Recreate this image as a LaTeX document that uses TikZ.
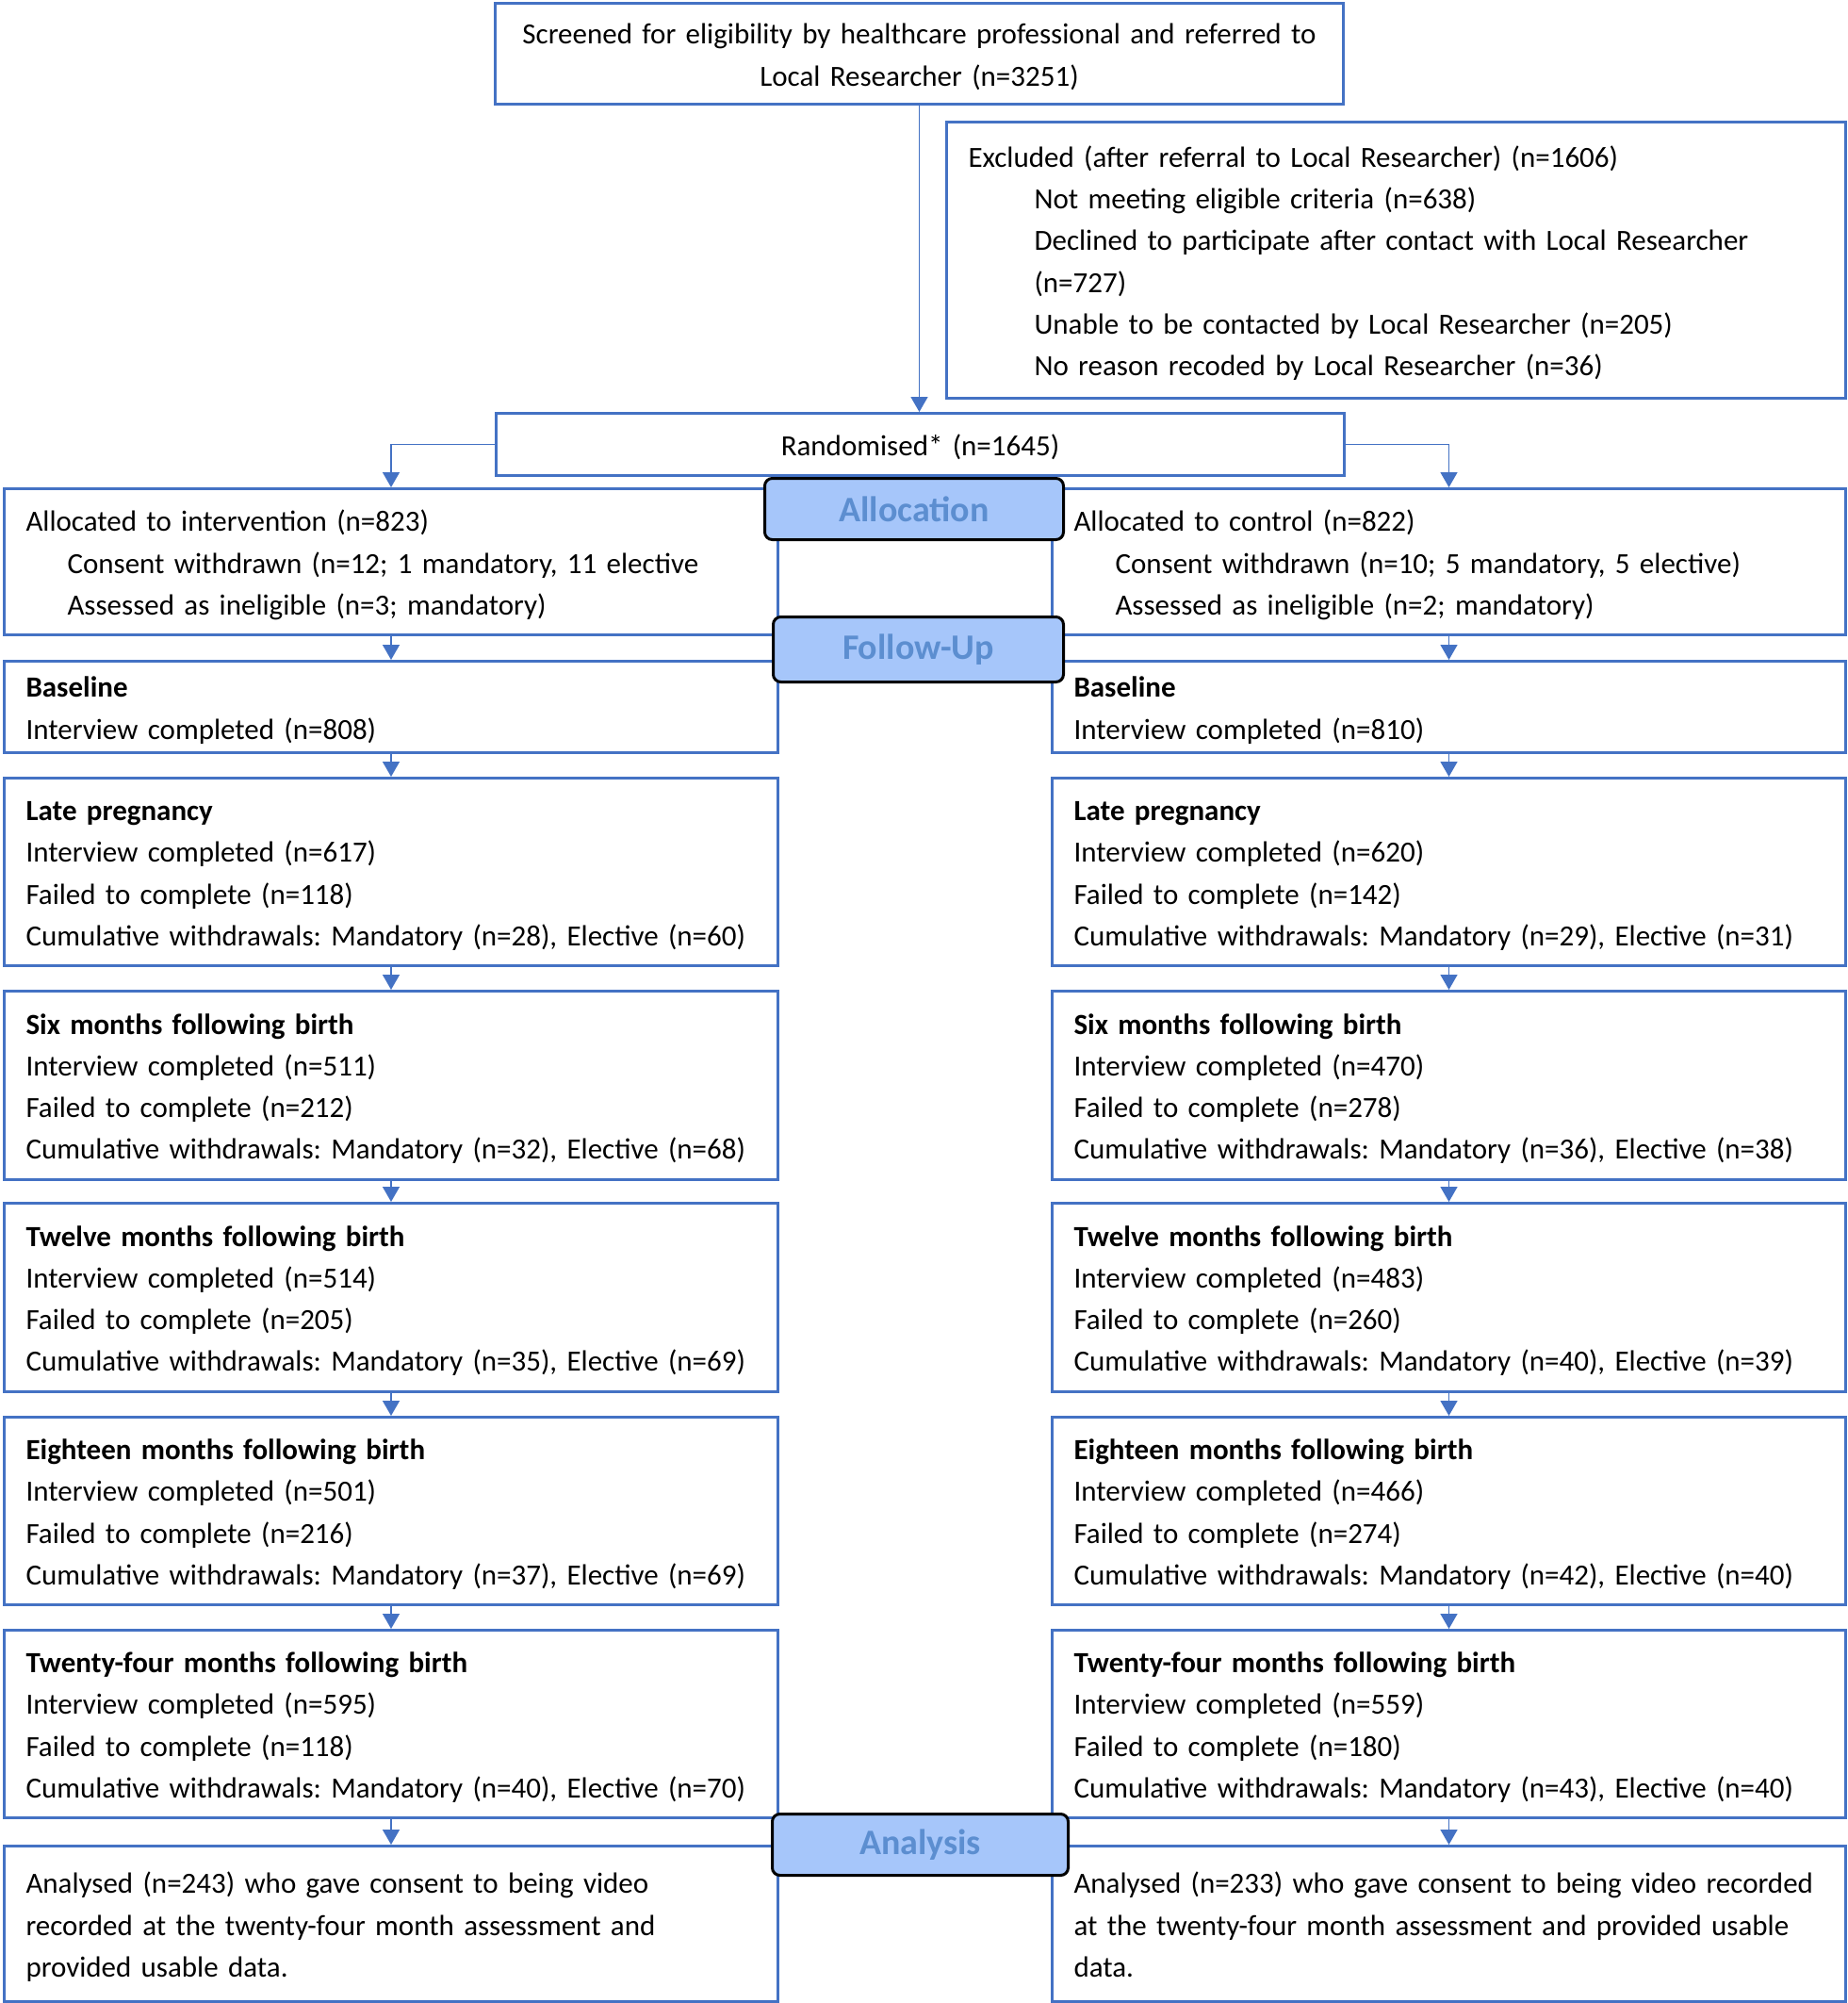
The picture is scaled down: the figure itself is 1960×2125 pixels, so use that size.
\documentclass[tikz,border=0pt]{standalone}
\usepackage{fontspec}
\setmainfont{Carlito}
\usetikzlibrary{arrows.meta}
\definecolor{boxblue}{RGB}{68,114,196}
\definecolor{tagfill}{RGB}{166,198,250}
\definecolor{tagtext}{RGB}{92,142,208}
\frenchspacing
\begin{document}
\begin{tikzpicture}[x=1pt, y=-1pt,
  box/.style={draw=boxblue, line width=3pt, anchor=north west, inner xsep=23pt, inner ysep=0pt,
    align=left, font=\fontsize{31}{44.2}\selectfont,
    execute at begin node=\rule{0pt}{33pt}, execute at end node=\rule[-9pt]{0pt}{0pt}},
  boxL/.style={box, text width=775pt},
  boxR/.style={box, text width=796pt},
  tag/.style={draw=black, line width=3pt, rounded corners=8pt, fill=tagfill, text=tagtext,
    anchor=north west, inner sep=0pt, font=\fontsize{38}{44}\selectfont\bfseries},
  arr/.style={draw=boxblue, line width=1.5pt, -{Triangle[width=18pt,length=16pt]}}]
\useasboundingbox (0,0) rectangle (1960,2125);

\node[box, align=center, text width=854pt, minimum height=107pt] (screen) at (524,2)
  {Screened for eligibility by healthcare professional and referred to\\Local Researcher (n=3251)};
\node[box, text width=908pt, minimum height=293pt] (excl) at (1003,128)
  {Excluded (after referral to Local Researcher) (n=1606)\\
   \hspace*{70pt}Not meeting eligible criteria (n=638)\\
   \hspace*{70pt}Declined to participate after contact with Local Researcher\\
   \hspace*{70pt}(n=727)\\
   \hspace*{70pt}Unable to be contacted by Local Researcher (n=205)\\
   \hspace*{70pt}No reason recoded by Local Researcher (n=36)};
\node[box, align=center, text width=854pt, minimum height=66pt] (rand) at (525,437) {Randomised* (n=1645)};

\node[boxL, minimum height=155pt] (allocL) at (3,517)
  {Allocated to intervention (n=823)\\
   \hspace*{44pt}Consent withdrawn (n=12; 1 mandatory, 11 elective\\
   \hspace*{44pt}Assessed as ineligible (n=3; mandatory)};
\node[boxR, minimum height=155pt] (allocR) at (1115,517)
  {Allocated to control (n=822)\\
   \hspace*{44pt}Consent withdrawn (n=10; 5 mandatory, 5 elective)\\
   \hspace*{44pt}Assessed as ineligible (n=2; mandatory)};

\node[boxL, minimum height=97pt] (baseL) at (3,700)
  {\textbf{Baseline}\\Interview completed (n=808)};
\node[boxR, minimum height=97pt] (baseR) at (1115,700)
  {\textbf{Baseline}\\Interview completed (n=810)};

\node[boxL, minimum height=199pt] (lateL) at (3,824)
  {\textbf{Late pregnancy}\\Interview completed (n=617)\\Failed to complete (n=118)\\
   Cumulative withdrawals: Mandatory (n=28), Elective (n=60)};
\node[boxR, minimum height=199pt] (lateR) at (1115,824)
  {\textbf{Late pregnancy}\\Interview completed (n=620)\\Failed to complete (n=142)\\
   Cumulative withdrawals: Mandatory (n=29), Elective (n=31)};

\node[boxL, minimum height=200pt] (sixL) at (3,1050)
  {\textbf{Six months following birth}\\Interview completed (n=511)\\Failed to complete (n=212)\\
   Cumulative withdrawals: Mandatory (n=32), Elective (n=68)};
\node[boxR, minimum height=200pt] (sixR) at (1115,1050)
  {\textbf{Six months following birth}\\Interview completed (n=470)\\Failed to complete (n=278)\\
   Cumulative withdrawals: Mandatory (n=36), Elective (n=38)};

\node[boxL, minimum height=200pt] (twelveL) at (3,1275)
  {\textbf{Twelve months following birth}\\Interview completed (n=514)\\Failed to complete (n=205)\\
   Cumulative withdrawals: Mandatory (n=35), Elective (n=69)};
\node[boxR, minimum height=200pt] (twelveR) at (1115,1275)
  {\textbf{Twelve months following birth}\\Interview completed (n=483)\\Failed to complete (n=260)\\
   Cumulative withdrawals: Mandatory (n=40), Elective (n=39)};

\node[boxL, minimum height=199pt] (eighteenL) at (3,1502)
  {\textbf{Eighteen months following birth}\\Interview completed (n=501)\\Failed to complete (n=216)\\
   Cumulative withdrawals: Mandatory (n=37), Elective (n=69)};
\node[boxR, minimum height=199pt] (eighteenR) at (1115,1502)
  {\textbf{Eighteen months following birth}\\Interview completed (n=466)\\Failed to complete (n=274)\\
   Cumulative withdrawals: Mandatory (n=42), Elective (n=40)};

\node[boxL, minimum height=199pt] (twentyfourL) at (3,1728)
  {\textbf{Twenty-four months following birth}\\Interview completed (n=595)\\Failed to complete (n=118)\\
   Cumulative withdrawals: Mandatory (n=40), Elective (n=70)};
\node[boxR, minimum height=199pt] (twentyfourR) at (1115,1728)
  {\textbf{Twenty-four months following birth}\\Interview completed (n=559)\\Failed to complete (n=180)\\
   Cumulative withdrawals: Mandatory (n=43), Elective (n=40)};

\node[boxL, minimum height=165pt] (anaL) at (3,1957)
  {Analysed (n=243) who gave consent to being video\\recorded at the twenty-four month assessment and\\provided usable data.};
\node[boxR, minimum height=165pt] (anaR) at (1115,1957)
  {Analysed (n=233) who gave consent to being video recorded\\at the twenty-four month assessment and provided usable\\data.};

\node[tag, minimum width=317pt, minimum height=65pt] (allocation) at (810,506) {Allocation};
\node[tag, minimum width=308pt, minimum height=69pt] (followup) at (819,653) {Follow-Up};
\node[tag, minimum width=314pt, minimum height=65pt] (analysis) at (818,1923) {Analysis};

\draw[arr] (screen.south) -- (screen.south |- rand.north);
\draw[arr] (rand.west) -| (allocL.north);
\draw[arr] (rand.east) -| (allocR.north);
\draw[arr] (allocL.south) -- (baseL.north);
\draw[arr] (allocR.south) -- (baseR.north);
\draw[arr] (baseL.south) -- (lateL.north);
\draw[arr] (baseR.south) -- (lateR.north);
\draw[arr] (lateL.south) -- (sixL.north);
\draw[arr] (lateR.south) -- (sixR.north);
\draw[arr] (sixL.south) -- (twelveL.north);
\draw[arr] (sixR.south) -- (twelveR.north);
\draw[arr] (twelveL.south) -- (eighteenL.north);
\draw[arr] (twelveR.south) -- (eighteenR.north);
\draw[arr] (eighteenL.south) -- (twentyfourL.north);
\draw[arr] (eighteenR.south) -- (twentyfourR.north);
\draw[arr] (twentyfourL.south) -- (anaL.north);
\draw[arr] (twentyfourR.south) -- (anaR.north);
\end{tikzpicture}
\end{document}
